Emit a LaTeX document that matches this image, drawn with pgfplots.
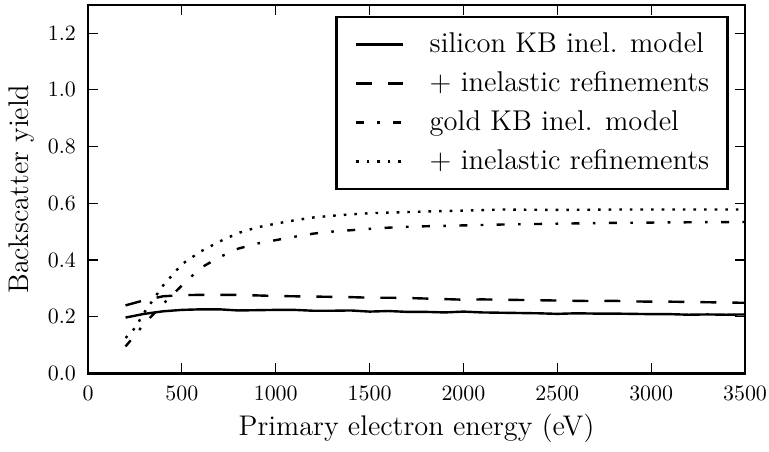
\documentclass[border=0pt]{standalone}
\usepackage{pgfplots}
\pgfplotsset{compat=1.18}
\begin{document}
\begin{tikzpicture}
\begin{axis}[
  scale only axis,
  width=328.5pt, height=184.3pt,
  xmin=0, xmax=3500, ymin=0, ymax=1.3,
  xtick={0,500,...,3500},
  ytick={0,0.2,0.4,0.6,0.8,1.0,1.2},
  tick align=inside,
  major tick length=5pt,
  every tick/.style={line width=0.6pt, black},
  axis line style={line width=1.3pt},
  tick label style={font=\fontsize{10.75}{12}\selectfont},
  label style={font=\fontsize{14.2}{17}\selectfont},
  x tick label style={yshift=-3pt, /pgf/number format/.cd, set thousands separator={}},
  y tick label style={xshift=-2.5pt, /pgf/number format/.cd, fixed, fixed zerofill, precision=1},
  xlabel={Primary electron energy (eV)},
  ylabel={Backscatter yield},
  legend style={
    at={(0.975,0.970)}, anchor=north east,
    draw=black, line width=1.3pt,
    font=\fontsize{14.3}{17}\selectfont,
    inner xsep=9pt, inner ysep=7pt,
    row sep=6pt, column sep=0pt,
    nodes={inner sep=0pt, text height=10.5pt, text depth=3pt},
  },
  legend cell align=left,
  legend image code/.code={\draw[#1, line width=1.2pt] (0pt,0pt) -- (23.3pt,0pt);},
  /tikz/every odd column/.append style={column sep=13pt},
]
\coordinate (sw) at (rel axis cs:0,0);
\coordinate (ne) at (rel axis cs:1,1);

% silicon KB inel. model (solid)
\addplot[black, line width=1.2pt] coordinates {
(200,0.197) (300,0.210) (400,0.219) (500,0.224) (600,0.226) (700,0.226)
(800,0.222) (900,0.223) (1000,0.224) (1100,0.224) (1200,0.221) (1300,0.221)
(1400,0.222) (1500,0.218) (1600,0.220) (1700,0.217) (1800,0.217) (1900,0.215)
(2000,0.218) (2100,0.215) (2200,0.214) (2300,0.213) (2400,0.212) (2500,0.210)
(2600,0.212) (2700,0.211) (2800,0.211) (2900,0.210) (3000,0.209) (3100,0.209)
(3200,0.207) (3300,0.208) (3400,0.207) (3500,0.208)
};
\addlegendentry{silicon KB inel. model}

% + inelastic refinements (dashed)
\addplot[black, line width=1.2pt, dash pattern=on 8pt off 8pt] coordinates {
(200,0.240) (300,0.258) (400,0.272) (500,0.276) (600,0.277) (700,0.277)
(800,0.277) (900,0.275) (1000,0.273) (1100,0.272) (1200,0.271) (1300,0.270)
(1400,0.269) (1500,0.267) (1600,0.267) (1700,0.266) (1800,0.264) (1900,0.262)
(2000,0.260) (2100,0.261) (2200,0.260) (2300,0.259) (2400,0.258) (2500,0.257)
(2600,0.256) (2700,0.255) (2800,0.256) (2900,0.254) (3000,0.253) (3100,0.253)
(3200,0.252) (3300,0.251) (3400,0.250) (3500,0.249)
};
\addlegendentry{+ inelastic refinements}

% gold KB inel. model (dash-dot)
\addplot[black, line width=1.2pt, dash pattern=on 4pt off 6.7pt on 1.3pt off 6.7pt] coordinates {
(200,0.095) (250,0.135) (300,0.175) (350,0.210) (400,0.245) (500,0.310)
(600,0.372) (700,0.410) (800,0.440) (900,0.458) (1000,0.470) (1100,0.482)
(1200,0.493) (1300,0.500) (1400,0.505) (1500,0.510) (1600,0.514) (1700,0.517)
(1800,0.519) (2000,0.522) (2200,0.525) (2400,0.527) (2600,0.529) (2800,0.531)
(3000,0.532) (3200,0.533) (3500,0.534)
};
\addlegendentry{gold KB inel. model}

% + inelastic refinements (dotted)
\addplot[black, line width=1.2pt, dash pattern=on 1.3pt off 4pt] coordinates {
(200,0.125) (250,0.160) (300,0.215) (400,0.310) (500,0.385) (600,0.430)
(700,0.465) (800,0.495) (900,0.515) (1000,0.528) (1100,0.540) (1200,0.550)
(1300,0.556) (1400,0.561) (1500,0.565) (1600,0.567) (1700,0.569) (1800,0.571)
(2000,0.574) (2200,0.578) (2400,0.577) (2600,0.577) (2800,0.578) (3000,0.578)
(3200,0.578) (3500,0.578)
};
\addlegendentry{+ inelastic refinements}
\end{axis}
\pgfresetboundingbox
\path[use as bounding box] ([xshift=-44pt,yshift=-38.8pt]sw) rectangle ([xshift=12pt,yshift=2.4pt]ne);
\end{tikzpicture}
\end{document}
